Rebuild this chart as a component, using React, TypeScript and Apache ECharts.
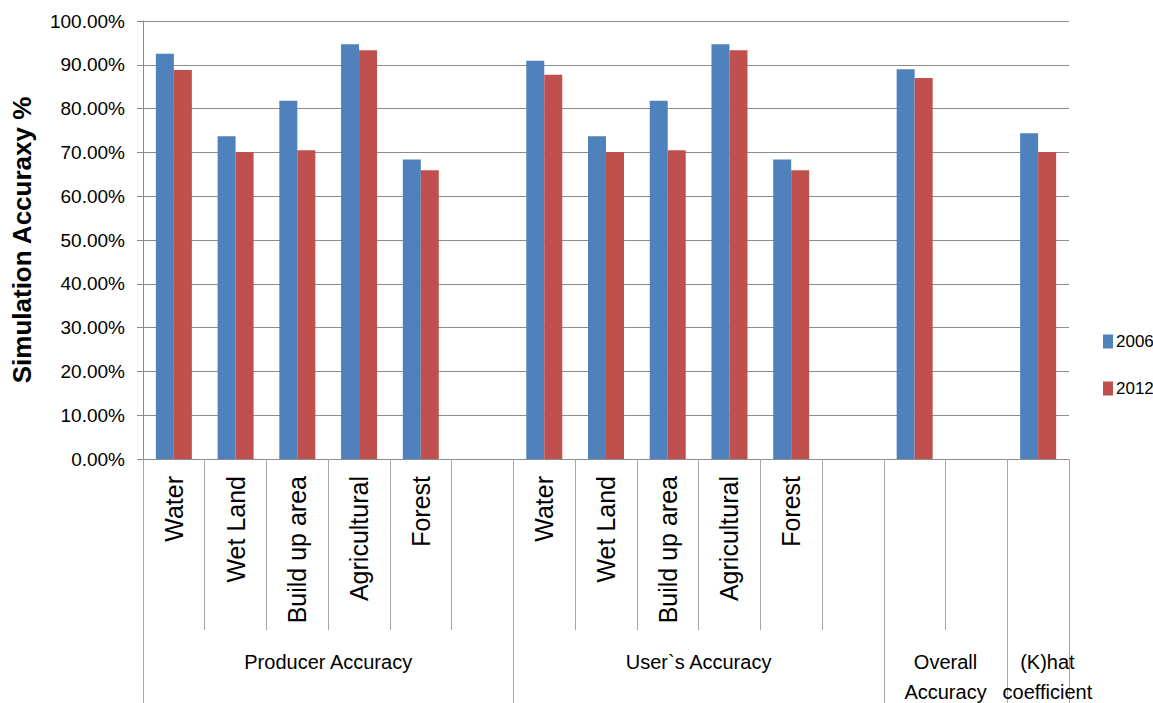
import React, { useEffect, useRef } from "react";
import * as echarts from "echarts";

const categories = [
  "Water", "Wet Land", "Build up area", "Agricultural", "Forest", "",
  "Water", "Wet Land", "Build up area", "Agricultural", "Forest", "",
  "", "", "",
];
const values2006 = [92.5, 73.7, 81.8, 94.7, 68.4, null, 90.9, 73.7, 81.8, 94.7, 68.4, null, 89.0, null, 74.4];
const values2012 = [88.8, 70.1, 70.5, 93.3, 65.9, null, 87.7, 70.1, 70.5, 93.3, 65.9, null, 87.0, null, 70.1];
const groupNames = ["Producer Accuracy", "User`s Accuracy", "Overall\nAccuracy", "(K)hat\ncoefficient"];
const groupCenters = [3, 9, 13, 14.65];
const groupBounds = [0, 6, 12, 14, 15];
const yTicks = [0, 10, 20, 30, 40, 50, 60, 70, 80, 90, 100];

const REG = "'Liberation Sans', Arial, sans-serif";

export default function App() {
  const ref = useRef<HTMLDivElement>(null);
  useEffect(() => {
    const chart = echarts.init(ref.current!, null, { renderer: "svg" });
    chart.setOption({
      animation: false,
      backgroundColor: "#ffffff",
      grid: { left: 143, right: 84, top: 21, bottom: 244, containLabel: false, outerBoundsMode: "none" },
      legend: {
        orient: "vertical",
        left: 1098,
        top: 328,
        itemWidth: 10,
        itemHeight: 14,
        itemGap: 30,
        icon: "rect",
        textStyle: { fontFamily: REG, fontSize: 17, color: "#000", padding: [0, 0, 0, -2] },
        data: ["2006", "2012"],
      },
      xAxis: [
        {
          type: "category",
          data: categories,
          boundaryGap: true,
          axisLine: { show: true, lineStyle: { color: "#8c8c8c", width: 1 } },
          axisTick: { show: true, interval: 0, length: 171, lineStyle: { color: "#a6a6a6" } },
          axisLabel: {
            interval: 0,
            rotate: 90,
            margin: 17,
            fontFamily: REG,
            fontSize: 25,
            color: "#000",
          },
          splitLine: { show: false },
        },
        {
          type: "value",
          position: "bottom",
          min: 0,
          max: 15,
          axisLine: { show: false },
          splitLine: { show: false },
          axisTick: {
            show: true,
            customValues: groupBounds,
            length: 244,
            lineStyle: { color: "#a6a6a6" },
          },
          axisLabel: {
            show: true,
            customValues: groupCenters,
            showMinLabel: true,
            showMaxLabel: true,
            hideOverlap: false,
            margin: 188,
            fontFamily: REG,
            fontSize: 20,
            lineHeight: 30,
            color: "#000",
            formatter: (v: number) => {
              const i = groupCenters.findIndex((c) => Math.abs(c - v) < 1e-3);
              return i >= 0 ? groupNames[i] : "";
            },
          },
        },
      ],
      yAxis: {
        type: "value",
        min: 0,
        max: 100,
        interval: 10,
        name: "Simulation Accuraxy %",
        nameLocation: "middle",
        nameGap: 108,
        nameRotate: 90,
        nameTextStyle: { fontFamily: REG, fontSize: 26, fontWeight: "bold", color: "#000" },
        axisLine: { show: true, lineStyle: { color: "#8c8c8c", width: 1 } },
        axisTick: { show: true, inside: false, length: 6, lineStyle: { color: "#8c8c8c" } },
        splitLine: { show: true, lineStyle: { color: "#8c8c8c", width: 1 } },
        axisLabel: {
          margin: 18,
          fontFamily: REG,
          fontSize: 19,
          color: "#000",
          customValues: yTicks,
          formatter: (v: number) => v.toFixed(2) + "%",
        },
      },
      series: [
        {
          name: "2006",
          type: "bar",
          data: values2006,
          barWidth: 18,
          barGap: "0%",
          itemStyle: { color: "#4F81BD" },
        },
        {
          name: "2012",
          type: "bar",
          data: values2012,
          barWidth: 18,
          barGap: "0%",
          itemStyle: { color: "#C0504D" },
        },
      ],
    });
    return () => chart.dispose();
  }, []);
  return (
    <div
      ref={ref}
      style={{ position: "fixed", left: 0, top: 0, width: 1153, height: 703, background: "#fff" }}
    />
  );
}
